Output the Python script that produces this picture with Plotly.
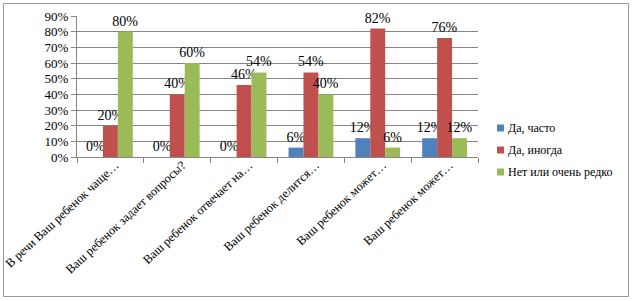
import plotly.graph_objects as go

categories = ["В речи Ваш ребенок чаще…", "Ваш ребенок задает вопросы?", "Ваш ребенок отвечает на…",
              "Ваш ребенок делится…", "Ваш ребенок может…", "Ваш ребенок может…"]
series_names = ["Да, часто", "Да, иногда", "Нет или очень редко"]
often = [0, 0, 0, 6, 12, 12]
sometimes = [20, 40, 46, 54, 82, 76]
rarely = [80, 60, 54, 40, 6, 12]
colors = ["#4F81BD", "#C0504D", "#9BBB59"]
y_ticks = [0, 10, 20, 30, 40, 50, 60, 70, 80, 90]

W, H = 633, 301
ml, mr, mt, mb = 77, 155, 16, 144
font = "Liberation Serif"
pw = W - ml - mr
ph = H - mt - mb

def px(xp):
    return (xp - ml) / pw

def py(yp):
    return (H - mb - yp) / ph

x = list(range(len(categories)))
fig = go.Figure()
for name, vals, c in zip(series_names, [often, sometimes, rarely], colors):
    fig.add_trace(go.Bar(
        x=x, y=vals, name=name, marker=dict(color=c, line=dict(width=0)),
        text=[f"{v}%" for v in vals], textposition="outside", constraintext="none",
        textfont=dict(family=font, size=14, color="#000"), cliponaxis=False,
        showlegend=False,
    ))

fig.update_layout(
    width=W, height=H, margin=dict(l=ml, r=mr, t=mt, b=mb, autoexpand=False),
    paper_bgcolor="white", plot_bgcolor="white",
    barmode="group", bargap=0.33, bargroupgap=0,
    font=dict(family=font, size=12, color="#000"),
    showlegend=False,
    xaxis=dict(range=[-0.5, 5.5], tickvals=x, ticktext=categories, tickangle=-43,
               showgrid=False, showline=True, linecolor="#868686", ticks="", automargin=False,
               ticklabeloverflow="allow", ticklabelstandoff=-5, ticklabelshift=5,
               tickfont=dict(family=font, size=12.4),
               minor=dict(tickvals=[i - 0.5 for i in range(len(categories) + 1)], ticks="outside",
                          ticklen=5, tickcolor="#868686", showgrid=False)),
    yaxis=dict(range=[0, 90], tickvals=y_ticks, ticktext=[f"{v}%" for v in y_ticks],
               showgrid=True, gridcolor="#868686", gridwidth=1, showline=True, linecolor="#868686",
               ticks="outside", ticklen=5, tickcolor="#868686", zeroline=False, automargin=False,
               tickfont=dict(family=font, size=13)),
)

# outer chart border
fig.add_shape(type="rect", xref="paper", yref="paper",
              x0=px(3.5), x1=px(628.5), y0=py(296.5), y1=py(3.5),
              line=dict(color="#9A9A9A", width=1), fillcolor="rgba(0,0,0,0)", layer="below")

# legend drawn from series names / colours
row_y = [128, 150, 172]
for name, c, yy in zip(series_names, colors, row_y):
    fig.add_shape(type="rect", xref="paper", yref="paper",
                  x0=px(497), x1=px(504), y0=py(yy + 3.5), y1=py(yy - 3.5),
                  line=dict(width=0), fillcolor=c)
    fig.add_annotation(xref="paper", yref="paper", x=px(506), y=py(yy), text=name,
                       showarrow=False, xanchor="left", yanchor="middle",
                       font=dict(family=font, size=12, color="#000"))

fig.write_html("out.html", config={"displayModeBar": False},
               post_script="document.body.style.margin='0';document.body.style.overflow='hidden';")
